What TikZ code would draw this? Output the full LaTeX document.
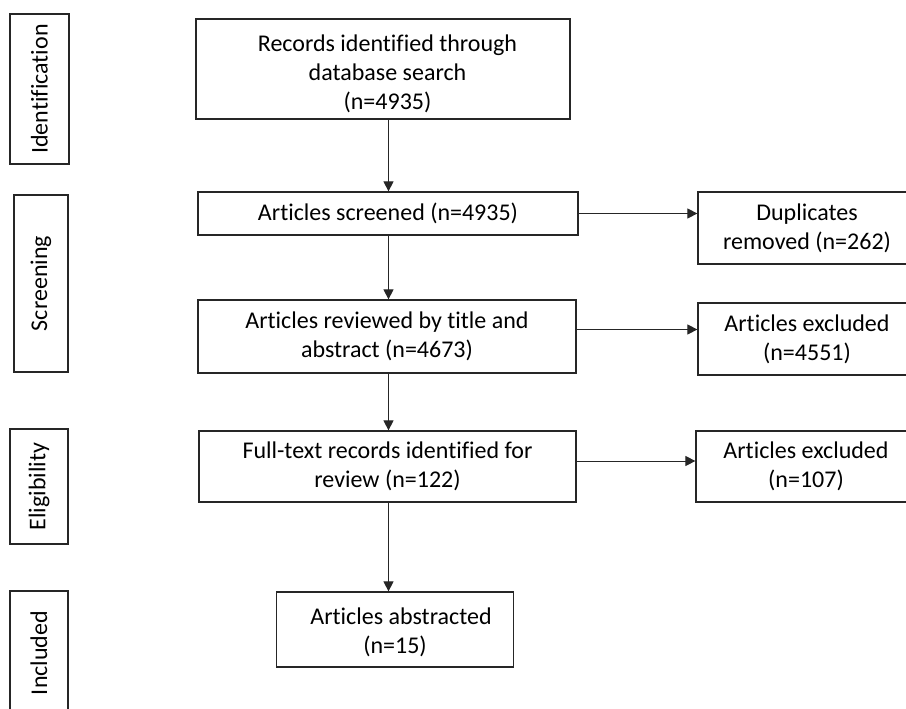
\documentclass[tikz,border=0pt]{standalone}
\usepackage{fontspec}
\setmainfont[Ligatures={NoCommon}]{Carlito}
\usetikzlibrary{arrows.meta}
\tikzset{
  box/.style={draw=black!85, line width=1.2pt, align=center, inner sep=0pt,
    font=\fontsize{24}{29}\selectfont},
  stage/.style={box, rotate=90},
  arr/.style={draw=black!85, line width=0.9pt, -{Triangle[length=10pt,width=10pt]}}
}
\begin{document}
\begin{tikzpicture}[x=1pt,y=-1pt]
\useasboundingbox (0,0) rectangle (906,709);
\begin{scope}
\clip (0,0) rectangle (906,709);
% stage labels
\node[stage, minimum width=150pt, minimum height=59pt] (ident) at (39.5,89) {Identification};
\node[stage, minimum width=177pt, minimum height=54pt] (screen) at (41,283.5) {Screening};
\node[stage, minimum width=115pt, minimum height=58pt] (elig) at (39,486.5) {Eligibility};
\node[stage, minimum width=124pt, minimum height=58pt] (incl) at (39,653) {Included};
% main column
\node[box, minimum width=374pt, minimum height=100pt] (records) at (383,69)
  {\rule{0pt}{27pt}\hspace*{9pt}Records identified through\\\hspace*{9pt}database search\\\hspace*{9pt}(n=4935)};
\node[box, minimum width=380pt, minimum height=43pt] (screened) at (388,213.5)
  {Articles screened (n=4935)};
\node[box, minimum width=378pt, minimum height=73pt] (reviewed) at (387,336.5)
  {Articles reviewed by title and\\abstract (n=4673)};
\node[box, minimum width=377pt, minimum height=71pt] (fulltext) at (387.5,466.5)
  {Full-text records identified for\\review (n=122)};
\node[box, minimum width=237pt, minimum height=75pt] (abstracted) at (395,629.5)
  {\rule{0pt}{23pt}\hspace*{12pt}Articles abstracted\\(n=15)};
% side column
\node[box, minimum width=218pt, minimum height=72pt] (dup) at (807,228)
  {Duplicates\\removed (n=262)};
\node[box, minimum width=218pt, minimum height=72pt] (exc1) at (807,339)
  {Articles excluded\\(n=4551)};
\node[box, minimum width=220pt, minimum height=71pt] (exc2) at (806,466.5)
  {Articles excluded\\(n=107)};
\coordinate (spine) at (388.5,0);
% connectors
\draw[arr] (records.south -| spine) -- (screened.north -| spine);
\draw[arr] (screened.south -| spine) -- (reviewed.north -| spine);
\draw[arr] (reviewed.south -| spine) -- (fulltext.north -| spine);
\draw[arr] (fulltext.south -| spine) -- (abstracted.north -| spine);
\draw[arr] (screened.east) -- (screened.east -| dup.west);
\draw[arr] ([yshift=7pt]reviewed.east) -- ([yshift=7pt]reviewed.east -| exc1.west);
\draw[arr] ([yshift=5.5pt]fulltext.east) -- ([yshift=5.5pt]fulltext.east -| exc2.west);
\end{scope}
\end{tikzpicture}
\end{document}
